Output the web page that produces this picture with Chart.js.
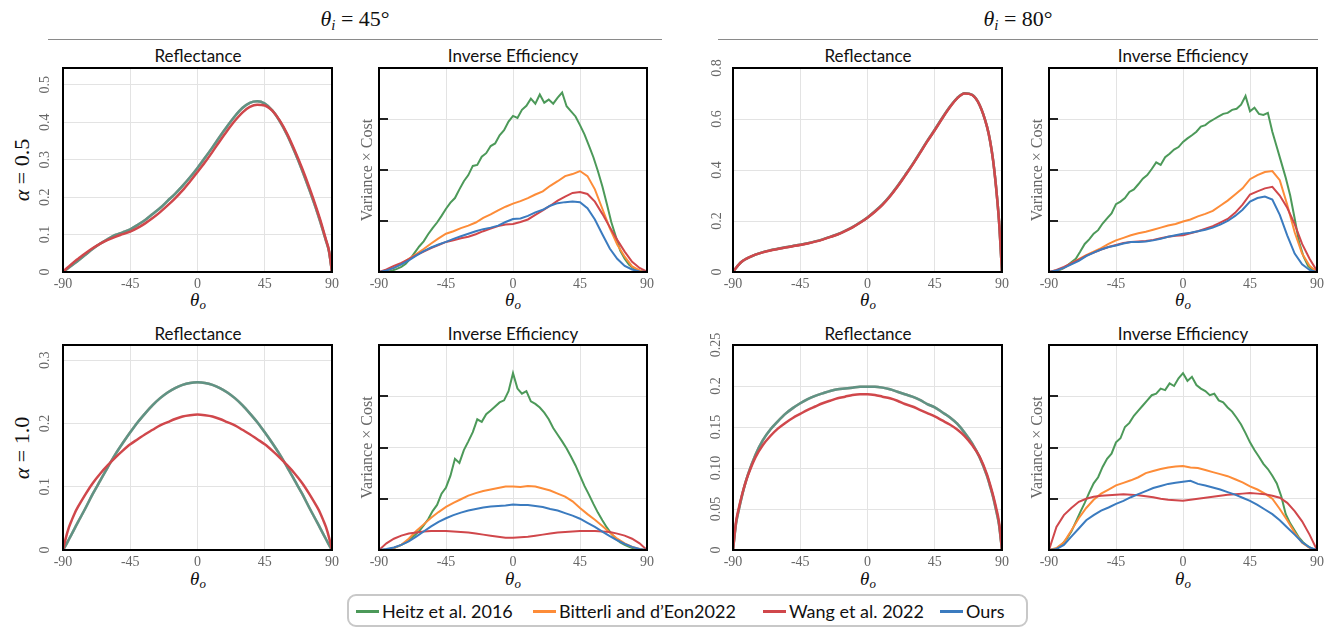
<!DOCTYPE html>
<html>
<head>
<meta charset="utf-8">
<script src="https://cdn.jsdelivr.net/npm/chart.js@4.4.1/dist/chart.umd.min.js"></script>
<style>
  html, body { margin: 0; padding: 0; background: #fff; overflow: hidden; }
  body { width: 1330px; height: 628px; position: relative; font-family: Lato, "Open Sans", sans-serif; color: #111; }
  canvas { position: absolute; }
  .hdr { position: absolute; font-family: "Liberation Serif", serif; font-size: 22px; line-height: 1; transform: translate(-50%, -50%); white-space: nowrap; }
  .rule { position: absolute; height: 0; border-top: 1.5px solid #8a8a8a; }
  .ptitle { position: absolute; font-size: 17px; line-height: 1; transform: translate(-50%, -50%); white-space: nowrap; }
  .xlab { position: absolute; font-family: "Liberation Serif", serif; font-size: 19px; line-height: 1; transform: translate(-50%, -50%); white-space: nowrap; }
  .rowlab { position: absolute; font-family: "Liberation Serif", serif; font-size: 22px; line-height: 1; transform: translate(-50%, -50%) rotate(-90deg); white-space: nowrap; }
  sub { font-size: 0.68em; vertical-align: -0.3em; line-height: 0; }
  #legend { position: absolute; left: 347px; top: 594px; width: 681px; height: 33px; box-sizing: border-box; border: 2px solid #c8c8c8; border-radius: 9px; background: #fff; }
  .lg-sw { position: absolute; height: 3px; width: 23px; top: 14px; }
  .lg-tx { position: absolute; top: 50%; transform: translateY(-50%); font-size: 18px; line-height: 1; white-space: nowrap; }
</style>
</head>
<body>

<div class="hdr" style="left:355px;top:19px"><i>θ</i><sub><i>i</i></sub> = 45°</div>
<div class="hdr" style="left:1018px;top:19px"><i>θ</i><sub><i>i</i></sub> = 80°</div>
<div class="rule" style="left:48px;top:39px;width:614px"></div>
<div class="rule" style="left:718px;top:39px;width:600px"></div>

<div class="ptitle" style="left:198px;top:55px">Reflectance</div>
<div class="ptitle" style="left:513px;top:55px">Inverse Efficiency</div>
<div class="ptitle" style="left:868px;top:55px">Reflectance</div>
<div class="ptitle" style="left:1183px;top:55px">Inverse Efficiency</div>
<div class="ptitle" style="left:198px;top:333px">Reflectance</div>
<div class="ptitle" style="left:513px;top:333px">Inverse Efficiency</div>
<div class="ptitle" style="left:868px;top:333px">Reflectance</div>
<div class="ptitle" style="left:1183px;top:333px">Inverse Efficiency</div>

<div class="xlab" style="left:198px;top:299px"><i>θ</i><sub><i>o</i></sub></div>
<div class="xlab" style="left:513px;top:299px"><i>θ</i><sub><i>o</i></sub></div>
<div class="xlab" style="left:868px;top:299px"><i>θ</i><sub><i>o</i></sub></div>
<div class="xlab" style="left:1183px;top:299px"><i>θ</i><sub><i>o</i></sub></div>
<div class="xlab" style="left:198px;top:578px"><i>θ</i><sub><i>o</i></sub></div>
<div class="xlab" style="left:513px;top:578px"><i>θ</i><sub><i>o</i></sub></div>
<div class="xlab" style="left:868px;top:578px"><i>θ</i><sub><i>o</i></sub></div>
<div class="xlab" style="left:1183px;top:578px"><i>θ</i><sub><i>o</i></sub></div>

<div class="rowlab" style="left:22px;top:170px"><i>α</i> = 0.5</div>
<div class="rowlab" style="left:22px;top:448px"><i>α</i> = 1.0</div>

<div id="legend"></div>

<script>
// ---- series ----
const seriesNames = ['Heitz et al. 2016', 'Bitterli and d\u2019Eon2022', 'Wang et al. 2022', 'Ours'];
const seriesColors = ['#4c9959', '#fd8c38', '#d0474b', '#3b7bbf'];

// ---- shared axes ----
const xTickValues = [-90, -45, 0, 45, 90];
const xTickLabels = ['-90', '-45', '0', '45', '90'];

// outgoing angle samples (degrees)
const reflX = [-90, -88, -86, -84, -82, -80, -75, -70, -65, -60, -55, -50, -45, -40, -35, -30, -25, -20, -15, -10, -5, 0,
  5, 10, 15, 20, 25, 30, 35, 40, 45, 50, 55, 60, 65, 70, 75, 80, 82, 84, 86, 88, 90];
const ieGX = [-90, -87, -84, -81, -78, -75, -72, -69, -66, -63, -60, -57, -54, -51, -48, -45, -42, -39, -36, -33, -30,
  -27, -24, -21, -18, -15, -12, -9, -6, -3, 0, 3, 6, 9, 12, 15, 18, 21, 24, 27, 30, 33, 36, 39, 42, 45, 48, 51, 54, 57,
  60, 63, 66, 69, 72, 75, 78, 81, 84, 87, 90];
const ieX = [-90, -85, -80, -75, -70, -65, -60, -55, -50, -45, -40, -35, -30, -25, -20, -15, -10, -5, 0,
  5, 10, 15, 20, 25, 30, 35, 40, 45, 50, 55, 60, 65, 70, 75, 80, 85, 90];

// ---- reflectance, theta_i = 45, alpha = 0.5 ----
const r45a05Shared = [0, 0.006, 0.012, 0.018, 0.024, 0.030, 0.046, 0.062, 0.076, 0.088, 0.099, 0.106, 0.114, 0.126, 0.139,
  0.155, 0.171, 0.190, 0.209, 0.230, 0.253, 0.278, 0.305, 0.333, 0.362, 0.390, 0.416, 0.438, 0.452, 0.456, 0.450, 0.432,
  0.403, 0.366, 0.321, 0.272, 0.218, 0.161, 0.136, 0.110, 0.083, 0.055, 0];
const r45a05Wang = [0, 0.008, 0.015, 0.022, 0.029, 0.035, 0.050, 0.064, 0.076, 0.086, 0.094, 0.101, 0.108, 0.118, 0.130,
  0.144, 0.160, 0.178, 0.197, 0.218, 0.242, 0.267, 0.293, 0.321, 0.350, 0.378, 0.404, 0.426, 0.441, 0.447, 0.445, 0.431,
  0.405, 0.369, 0.325, 0.277, 0.224, 0.166, 0.141, 0.114, 0.086, 0.057, 0];

// ---- reflectance, theta_i = 80, alpha = 0.5 ----
const r80a05Shared = [0, 0.016, 0.030, 0.041, 0.049, 0.055, 0.068, 0.078, 0.085, 0.091, 0.097, 0.102, 0.107, 0.113, 0.120,
  0.128, 0.138, 0.148, 0.161, 0.176, 0.194, 0.214, 0.238, 0.265, 0.298, 0.336, 0.378, 0.421, 0.467, 0.514, 0.558, 0.604,
  0.647, 0.682, 0.701, 0.695, 0.655, 0.569, 0.515, 0.440, 0.335, 0.200, 0];
const r80a05Wang = [0, 0.016, 0.030, 0.041, 0.049, 0.055, 0.068, 0.077, 0.084, 0.090, 0.096, 0.101, 0.106, 0.112, 0.119,
  0.127, 0.137, 0.147, 0.160, 0.175, 0.193, 0.213, 0.236, 0.263, 0.296, 0.334, 0.376, 0.419, 0.465, 0.512, 0.556, 0.602,
  0.645, 0.681, 0.700, 0.694, 0.655, 0.569, 0.515, 0.440, 0.335, 0.200, 0];

// ---- reflectance, theta_i = 45, alpha = 1.0 ----
const r45a10Shared = [0, 0.008, 0.017, 0.026, 0.035, 0.044, 0.066, 0.089, 0.110, 0.131, 0.151, 0.169, 0.186, 0.202, 0.216,
  0.229, 0.240, 0.249, 0.256, 0.261, 0.264, 0.265, 0.264, 0.261, 0.256, 0.249, 0.240, 0.229, 0.216, 0.202, 0.186, 0.169,
  0.151, 0.131, 0.110, 0.089, 0.066, 0.044, 0.035, 0.026, 0.017, 0.008, 0];
const r45a10Wang = [0, 0.020, 0.036, 0.048, 0.059, 0.068, 0.088, 0.106, 0.121, 0.134, 0.146, 0.157, 0.167, 0.175, 0.183,
  0.190, 0.197, 0.202, 0.207, 0.211, 0.213, 0.214, 0.213, 0.211, 0.207, 0.202, 0.197, 0.190, 0.183, 0.175, 0.167, 0.157,
  0.146, 0.134, 0.121, 0.106, 0.088, 0.068, 0.059, 0.048, 0.036, 0.020, 0];

// ---- reflectance, theta_i = 80, alpha = 1.0 ----
const r80a10Shared = [0, 0.032, 0.050, 0.066, 0.080, 0.092, 0.116, 0.134, 0.147, 0.157, 0.166, 0.173, 0.179, 0.184, 0.188,
  0.191, 0.194, 0.196, 0.197, 0.198, 0.199, 0.199, 0.199, 0.198, 0.196, 0.193, 0.190, 0.187, 0.183, 0.178, 0.174, 0.168,
  0.162, 0.154, 0.143, 0.130, 0.113, 0.090, 0.078, 0.065, 0.049, 0.031, 0];
const r80a10Wang = [0, 0.034, 0.052, 0.067, 0.080, 0.091, 0.113, 0.128, 0.139, 0.148, 0.155, 0.161, 0.166, 0.171, 0.175,
  0.179, 0.182, 0.185, 0.187, 0.189, 0.190, 0.190, 0.189, 0.187, 0.185, 0.182, 0.178, 0.175, 0.171, 0.167, 0.163, 0.158,
  0.153, 0.147, 0.139, 0.128, 0.114, 0.092, 0.080, 0.067, 0.052, 0.034, 0];

// ---- inverse efficiency, theta_i = 45, alpha = 0.5 ----
const ie45a05Heitz = [0, 0, 0.01, 0.03, 0.06, 0.10, 0.16, 0.26, 0.38, 0.50, 0.60, 0.74, 0.86, 0.97, 1.10, 1.24, 1.36, 1.45,
  1.62, 1.78, 1.90, 2.08, 2.10, 2.26, 2.33, 2.47, 2.52, 2.68, 2.78, 2.95, 3.06, 3.02, 3.18, 3.26, 3.40, 3.30, 3.48, 3.32,
  3.38, 3.30, 3.42, 3.52, 3.25, 3.15, 3.05, 2.88, 2.70, 2.48, 2.25, 1.98, 1.68, 1.34, 0.98, 0.70, 0.42, 0.26, 0.14, 0.07,
  0.03, 0.01, 0];
const ie45a05Bitterli = [0, 0.03, 0.08, 0.16, 0.26, 0.35, 0.45, 0.56, 0.66, 0.75, 0.80, 0.86, 0.91, 0.97, 1.06, 1.13, 1.21,
  1.28, 1.34, 1.39, 1.45, 1.52, 1.58, 1.69, 1.78, 1.88, 1.92, 1.98, 1.88, 1.62, 1.24, 0.86, 0.54, 0.30, 0.11, 0.03, 0];
const ie45a05Wang = [0, 0.05, 0.12, 0.18, 0.25, 0.33, 0.40, 0.47, 0.53, 0.59, 0.62, 0.66, 0.69, 0.74, 0.80, 0.85, 0.90, 0.93,
  0.94, 0.98, 1.03, 1.12, 1.21, 1.30, 1.40, 1.48, 1.55, 1.57, 1.53, 1.38, 1.14, 0.88, 0.63, 0.40, 0.20, 0.08, 0.01];
const ie45a05Ours = [0, 0.03, 0.08, 0.15, 0.23, 0.32, 0.41, 0.48, 0.54, 0.59, 0.65, 0.70, 0.75, 0.80, 0.84, 0.87, 0.91, 0.98,
  1.04, 1.05, 1.10, 1.17, 1.22, 1.30, 1.35, 1.37, 1.38, 1.37, 1.25, 1.03, 0.74, 0.46, 0.26, 0.12, 0.05, 0.01, 0];

// ---- inverse efficiency, theta_i = 80, alpha = 0.5 ----
const ie80a05Heitz = [0, 0.01, 0.03, 0.06, 0.12, 0.19, 0.26, 0.40, 0.55, 0.64, 0.75, 0.82, 0.95, 1.05, 1.15, 1.33, 1.38,
  1.45, 1.57, 1.62, 1.72, 1.83, 1.90, 2.02, 2.15, 2.10, 2.25, 2.32, 2.40, 2.45, 2.55, 2.62, 2.68, 2.75, 2.85, 2.88, 2.95,
  3.00, 3.05, 3.10, 3.12, 3.18, 3.20, 3.28, 3.45, 3.15, 3.22, 3.10, 3.08, 3.12, 2.75, 2.45, 2.15, 1.85, 1.50, 1.05, 0.58,
  0.30, 0.12, 0.03, 0];
const ie80a05Bitterli = [0, 0.03, 0.08, 0.17, 0.25, 0.33, 0.40, 0.47, 0.55, 0.62, 0.67, 0.72, 0.76, 0.79, 0.83, 0.87, 0.91,
  0.94, 0.99, 1.03, 1.09, 1.14, 1.20, 1.30, 1.40, 1.52, 1.64, 1.82, 1.90, 1.96, 1.98, 1.80, 1.32, 0.78, 0.36, 0.12, 0];
const ie80a05Wang = [0, 0.04, 0.10, 0.17, 0.24, 0.32, 0.38, 0.44, 0.49, 0.53, 0.57, 0.59, 0.60, 0.61, 0.63, 0.66, 0.69, 0.71,
  0.72, 0.76, 0.80, 0.85, 0.90, 0.97, 1.04, 1.16, 1.32, 1.52, 1.58, 1.64, 1.67, 1.50, 1.26, 0.94, 0.55, 0.26, 0.02];
const ie80a05Ours = [0, 0.03, 0.08, 0.15, 0.22, 0.31, 0.38, 0.44, 0.49, 0.52, 0.56, 0.59, 0.59, 0.60, 0.62, 0.65, 0.69, 0.72,
  0.75, 0.77, 0.80, 0.83, 0.87, 0.93, 1.00, 1.10, 1.22, 1.38, 1.45, 1.48, 1.42, 1.12, 0.72, 0.36, 0.15, 0.04, 0];

// ---- inverse efficiency, theta_i = 45, alpha = 1.0 ----
const ie45a10Heitz = [0, 0, 0.01, 0.03, 0.06, 0.10, 0.15, 0.22, 0.29, 0.37, 0.48, 0.60, 0.76, 0.88, 1.10, 1.22, 1.45, 1.78,
  1.70, 1.95, 2.12, 2.30, 2.55, 2.50, 2.65, 2.72, 2.80, 2.88, 2.92, 3.10, 3.45, 3.15, 3.05, 3.10, 2.90, 2.85, 2.78, 2.68,
  2.55, 2.38, 2.25, 2.12, 1.98, 1.82, 1.65, 1.45, 1.25, 1.08, 0.90, 0.73, 0.58, 0.44, 0.32, 0.22, 0.15, 0.10, 0.06, 0.03,
  0.01, 0, 0];
const ie45a10Bitterli = [0, 0.01, 0.04, 0.10, 0.22, 0.37, 0.50, 0.63, 0.74, 0.84, 0.92, 0.99, 1.06, 1.11, 1.15, 1.18, 1.21,
  1.24, 1.24, 1.23, 1.25, 1.24, 1.20, 1.16, 1.10, 1.04, 0.95, 0.82, 0.70, 0.59, 0.47, 0.34, 0.22, 0.13, 0.06, 0.02, 0];
const ie45a10Wang = [0, 0.13, 0.22, 0.28, 0.32, 0.34, 0.36, 0.37, 0.37, 0.37, 0.36, 0.35, 0.34, 0.32, 0.30, 0.28, 0.26, 0.24,
  0.24, 0.25, 0.26, 0.28, 0.30, 0.32, 0.34, 0.35, 0.36, 0.37, 0.37, 0.37, 0.36, 0.35, 0.32, 0.28, 0.22, 0.13, 0];
const ie45a10Ours = [0, 0.02, 0.05, 0.10, 0.17, 0.26, 0.36, 0.46, 0.55, 0.62, 0.68, 0.73, 0.77, 0.80, 0.83, 0.85, 0.86, 0.87,
  0.89, 0.88, 0.88, 0.86, 0.84, 0.80, 0.77, 0.72, 0.67, 0.61, 0.53, 0.45, 0.36, 0.27, 0.19, 0.12, 0.06, 0.02, 0];

// ---- inverse efficiency, theta_i = 80, alpha = 1.0 ----
const ie80a10Heitz = [0, 0.01, 0.04, 0.12, 0.22, 0.36, 0.55, 0.74, 0.92, 1.12, 1.30, 1.42, 1.62, 1.78, 1.88, 2.10, 2.18,
  2.40, 2.48, 2.62, 2.72, 2.82, 2.92, 3.02, 3.05, 3.15, 3.12, 3.25, 3.20, 3.35, 3.45, 3.30, 3.38, 3.22, 3.15, 3.10, 3.02,
  3.05, 2.92, 2.88, 2.78, 2.70, 2.58, 2.45, 2.28, 2.10, 1.95, 1.82, 1.68, 1.58, 1.45, 1.30, 1.05, 0.70, 0.52, 0.38, 0.24,
  0.14, 0.07, 0.02, 0];
const ie80a10Bitterli = [0, 0.04, 0.15, 0.38, 0.62, 0.82, 0.98, 1.10, 1.18, 1.26, 1.31, 1.36, 1.42, 1.50, 1.54, 1.58, 1.61,
  1.63, 1.64, 1.61, 1.60, 1.56, 1.52, 1.48, 1.44, 1.38, 1.32, 1.24, 1.18, 1.10, 1.00, 0.80, 0.58, 0.34, 0.14, 0.04, 0];
const ie80a10Wang = [0, 0.45, 0.68, 0.82, 0.94, 1.00, 1.04, 1.06, 1.07, 1.08, 1.09, 1.08, 1.07, 1.05, 1.03, 1.00, 0.98, 0.97,
  0.96, 0.98, 1.00, 1.02, 1.04, 1.06, 1.08, 1.09, 1.10, 1.11, 1.10, 1.09, 1.06, 1.02, 0.92, 0.76, 0.56, 0.30, 0];
const ie80a10Ours = [0, 0.02, 0.10, 0.26, 0.42, 0.58, 0.68, 0.77, 0.83, 0.90, 0.96, 1.03, 1.09, 1.15, 1.21, 1.25, 1.29, 1.31,
  1.33, 1.35, 1.29, 1.26, 1.22, 1.18, 1.13, 1.08, 1.02, 0.96, 0.88, 0.79, 0.70, 0.58, 0.44, 0.30, 0.15, 0.05, 0];

// ---- y-axis ticks ----
const r45a05YTicks = [0, 0.1, 0.2, 0.3, 0.4, 0.5];
const r45a05YLabels = ['0', '0.1', '0.2', '0.3', '0.4', '0.5'];
const r80a05YTicks = [0, 0.2, 0.4, 0.6, 0.8];
const r80a05YLabels = ['0', '0.2', '0.4', '0.6', '0.8'];
const r45a10YTicks = [0, 0.1, 0.2, 0.3];
const r45a10YLabels = ['0', '0.1', '0.2', '0.3'];
const r80a10YTicks = [0, 0.05, 0.1, 0.15, 0.2, 0.25];
const r80a10YLabels = ['0', '0.05', '0.10', '0.15', '0.2', '0.25'];
const ieYTicks = [0, 1, 2, 3, 4];

// ---- helpers ----
function pts(xs, ys) { return xs.map((x, i) => ({ x: x, y: ys[i] })); }
function rgba(hex, a) {
  const n = parseInt(hex.slice(1), 16);
  return 'rgba(' + (n >> 16) + ',' + ((n >> 8) & 255) + ',' + (n & 255) + ',' + a + ')';
}

const tickFont = { family: '"Liberation Serif", "Times New Roman", serif', size: 14 };
const tickColor = '#666';
const gridColor = '#e3e3e3';

// plot frame plus inward tick marks on the efficiency panels
const framePlugin = {
  id: 'frame',
  afterDatasetsDraw(chart, args, opts) {
    const ctx = chart.ctx;
    const a = chart.chartArea;
    ctx.save();
    if (opts.innerTicks) {
      const ys = chart.scales.y;
      ctx.strokeStyle = '#222';
      ctx.lineWidth = 2;
      ys.ticks.forEach(t => {
        if (t.value <= ys.min || t.value >= ys.max) return;
        const py = Math.round(ys.getPixelForValue(t.value));
        ctx.beginPath();
        ctx.moveTo(a.left, py);
        ctx.lineTo(a.left + 9, py);
        ctx.stroke();
      });
    }
    ctx.strokeStyle = '#000';
    ctx.lineWidth = 2;
    ctx.strokeRect(a.left, a.top, a.right - a.left, a.bottom - a.top);
    ctx.restore();
  }
};

// three methods coincide in reflectance; translucent strokes let them blend
function reflSets(shared, wang) {
  const base = { pointRadius: 0, borderWidth: 2.5, cubicInterpolationMode: 'monotone', fill: false };
  return [
    Object.assign({ label: seriesNames[0], data: pts(reflX, shared), borderColor: rgba(seriesColors[0], 0.5), order: 1 }, base),
    Object.assign({ label: seriesNames[1], data: pts(reflX, shared), borderColor: rgba(seriesColors[1], 0.6), order: 3 }, base),
    Object.assign({ label: seriesNames[2], data: pts(reflX, wang), borderColor: seriesColors[2], order: 0 }, base),
    Object.assign({ label: seriesNames[3], data: pts(reflX, shared), borderColor: rgba(seriesColors[3], 0.7), order: 2 }, base)
  ];
}

function ieSets(heitz, bitterli, wang, ours) {
  const base = { pointRadius: 0, borderWidth: 2, tension: 0, fill: false };
  return [
    Object.assign({ label: seriesNames[0], data: pts(ieGX, heitz), borderColor: seriesColors[0], order: 3 }, base),
    Object.assign({ label: seriesNames[1], data: pts(ieX, bitterli), borderColor: seriesColors[1], order: 2 }, base),
    Object.assign({ label: seriesNames[2], data: pts(ieX, wang), borderColor: seriesColors[2], order: 1 }, base),
    Object.assign({ label: seriesNames[3], data: pts(ieX, ours), borderColor: seriesColors[3], order: 0 }, base)
  ];
}

// rect = [left, top, right, bottom] of the plot area on the page
function makePanel(rect, datasets, y) {
  const [L, T, R, B] = rect;
  const W = R - L + 66, H = B - T + 50;
  const cv = document.createElement('canvas');
  cv.width = W; cv.height = H;
  cv.style.left = (L - 50) + 'px';
  cv.style.top = (T - 24) + 'px';
  cv.style.width = W + 'px';
  cv.style.height = H + 'px';
  document.body.appendChild(cv);

  new Chart(cv, {
    type: 'line',
    data: { datasets: datasets },
    plugins: [framePlugin],
    options: {
      responsive: false,
      animation: false,
      devicePixelRatio: 1,
      layout: { padding: { left: 0, top: 24, right: 16, bottom: 0 } },
      plugins: {
        legend: { display: false },
        tooltip: { enabled: false },
        frame: { innerTicks: !!y.inner }
      },
      scales: {
        x: {
          type: 'linear', min: -90, max: 90,
          afterBuildTicks: s => { s.ticks = xTickValues.map(v => ({ value: v })); },
          afterFit: s => { s.height = 26; },
          ticks: {
            autoSkip: false, maxRotation: 0, minRotation: 0, padding: 4,
            font: tickFont, color: tickColor,
            callback: v => xTickLabels[xTickValues.indexOf(v)]
          },
          grid: { color: gridColor, lineWidth: 1, drawTicks: false },
          border: { display: false }
        },
        y: {
          type: 'linear', min: 0, max: y.max,
          afterBuildTicks: s => { s.ticks = y.ticks.map(v => ({ value: v })); },
          afterFit: s => { s.width = 50; },
          ticks: {
            display: !y.inner,
            minRotation: 90, maxRotation: 90, crossAlign: 'center', padding: y.pad || 0,
            font: tickFont, color: tickColor,
            callback: v => (y.labels ? y.labels[y.ticks.indexOf(v)] : '')
          },
          grid: { color: gridColor, lineWidth: 1, drawTicks: false },
          border: { display: false },
          title: {
            display: !!y.inner,
            text: 'Variance \u00d7 Cost',
            color: '#666',
            font: { family: '"Liberation Serif", "Times New Roman", serif', size: 16 },
            padding: { top: 29, bottom: 0 }
          }
        }
      }
    }
  });
}

// top row: alpha = 0.5
makePanel([63, 68, 332, 272], reflSets(r45a05Shared, r45a05Wang), { max: 0.545, ticks: r45a05YTicks, labels: r45a05YLabels, pad: 9 });
makePanel([379, 68, 647, 272], ieSets(ie45a05Heitz, ie45a05Bitterli, ie45a05Wang, ie45a05Ours), { max: 4, ticks: ieYTicks, inner: true });
makePanel([733, 68, 1002, 272], reflSets(r80a05Shared, r80a05Wang), { max: 0.8, ticks: r80a05YTicks, labels: r80a05YLabels, pad: 7 });
makePanel([1049, 68, 1317, 272], ieSets(ie80a05Heitz, ie80a05Bitterli, ie80a05Wang, ie80a05Ours), { max: 4, ticks: ieYTicks, inner: true });

// bottom row: alpha = 1.0
makePanel([63, 345, 332, 550], reflSets(r45a10Shared, r45a10Wang), { max: 0.324, ticks: r45a10YTicks, labels: r45a10YLabels, pad: 9 });
makePanel([379, 345, 647, 550], ieSets(ie45a10Heitz, ie45a10Bitterli, ie45a10Wang, ie45a10Ours), { max: 4, ticks: ieYTicks, inner: true });
makePanel([733, 345, 1002, 550], reflSets(r80a10Shared, r80a10Wang), { max: 0.25, ticks: r80a10YTicks, labels: r80a10YLabels, pad: 4 });
makePanel([1049, 345, 1317, 550], ieSets(ie80a10Heitz, ie80a10Bitterli, ie80a10Wang, ie80a10Ours), { max: 4, ticks: ieYTicks, inner: true });

// shared legend
const legendSwatchX = [7, 184, 414, 591];
const legend = document.getElementById('legend');
seriesNames.forEach((name, i) => {
  const sw = document.createElement('div');
  sw.className = 'lg-sw';
  sw.style.left = legendSwatchX[i] + 'px';
  sw.style.background = seriesColors[i];
  legend.appendChild(sw);
  const tx = document.createElement('div');
  tx.className = 'lg-tx';
  tx.style.left = (legendSwatchX[i] + 26) + 'px';
  tx.textContent = name;
  legend.appendChild(tx);
});
</script>
</body>
</html>
